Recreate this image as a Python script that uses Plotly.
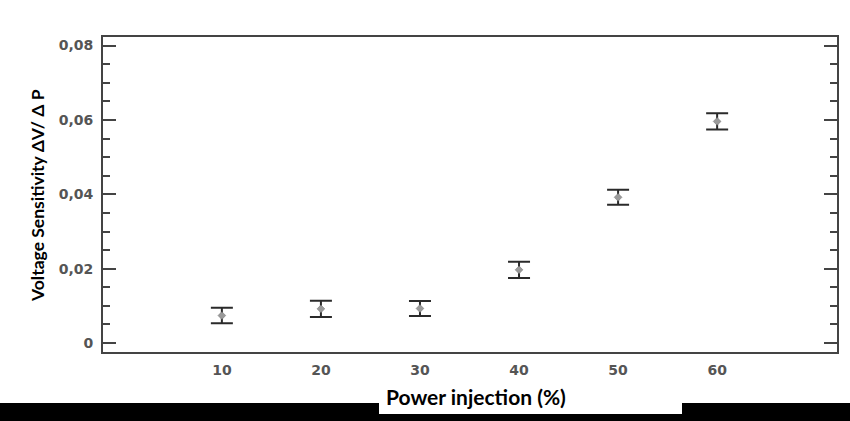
import plotly.graph_objects as go

power_pct = [10, 20, 30, 40, 50, 60]
sensitivity = [0.0074, 0.0092, 0.0093, 0.0197, 0.0392, 0.0596]
sens_err = [0.0021, 0.0022, 0.0020, 0.0022, 0.0020, 0.0022]
x_ticks = [10, 20, 30, 40, 50, 60]
y_ticks = [0, 0.02, 0.04, 0.06, 0.08]
y_tick_text = ["0", "0,02", "0,04", "0,06", "0,08"]

W, H = 850, 421
L, R, T, B = 103, 13, 37, 69
pw, ph = W - L - R, H - T - B

def px_x(p):
    return (p - L) / pw

def px_y(p):
    return (H - B - p) / ph

tick_font = dict(family="DejaVu Sans", size=14, color="#555555", weight="bold")

fig = go.Figure()
fig.add_trace(go.Scatter(
    x=power_pct, y=sensitivity, mode="markers",
    marker=dict(symbol="diamond", size=6, color="#9a9a9a",
                line=dict(color="#707070", width=0.5)),
    error_y=dict(type="data", array=sens_err, visible=True,
                 color="#2a2a2a", thickness=2, width=11),
    showlegend=False,
))

fig.update_layout(
    width=W, height=H,
    margin=dict(l=L, r=R, t=T, b=B, autoexpand=False),
    paper_bgcolor="white", plot_bgcolor="white",
    separators=",.",
    xaxis=dict(
        range=[-2, 72.1], tickvals=x_ticks, ticks="",
        showgrid=False, zeroline=False, automargin=False,
        showline=True, linecolor="#444444", linewidth=2, mirror=True,
        tickfont=tick_font, ticklabelstandoff=4,
    ),
    yaxis=dict(
        range=[-0.0024, 0.0823], tickvals=y_ticks, ticktext=y_tick_text,
        ticks="inside", ticklen=13, tickwidth=2, tickcolor="#444444",
        minor=dict(dtick=0.005, ticks="inside", ticklen=7, tickwidth=2,
                   tickcolor="#444444", showgrid=False),
        showgrid=False, zeroline=False, automargin=False,
        showline=True, linecolor="#444444", linewidth=2, mirror="allticks",
        tickfont=tick_font, ticklabelstandoff=5,
    ),
    shapes=[
        dict(type="rect", xref="paper", yref="paper",
             x0=px_x(0), x1=px_x(850), y0=px_y(421), y1=px_y(403),
             fillcolor="black", line=dict(width=0), layer="above"),
        dict(type="rect", xref="paper", yref="paper",
             x0=px_x(379), x1=px_x(682), y0=px_y(414), y1=px_y(403),
             fillcolor="white", line=dict(width=0), layer="above"),
    ],
    annotations=[
        dict(text="Power injection (%)", xref="paper", yref="paper",
             x=px_x(476), y=px_y(396), showarrow=False,
             xanchor="center", yanchor="middle",
             font=dict(family="Lato", size=21, color="black", weight="bold")),
        dict(text="Voltage Sensitivity ΔV/ Δ P", xref="paper", yref="paper",
             x=px_x(37), y=px_y(196), showarrow=False, textangle=-90,
             xanchor="center", yanchor="middle",
             font=dict(family="Lato", size=17.5, color="black", weight="bold")),
    ],
)

fig.write_html(
    "out.html",
    config={"displayModeBar": False},
    post_script="document.body.style.margin='0';document.body.style.overflow='hidden';",
)
